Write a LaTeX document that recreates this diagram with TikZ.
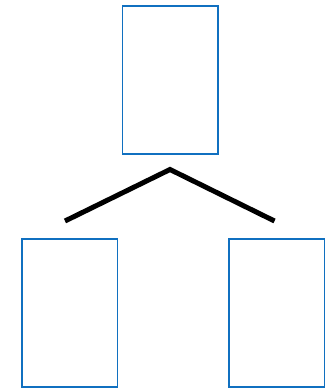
\documentclass[tikz,border=0pt]{standalone}
\definecolor{boxblue}{HTML}{1070C0}
\begin{document}
\begin{tikzpicture}[x=1pt,y=-1pt,
  box/.style={draw=boxblue,line width=1.5pt,fill=white,minimum width=95.5pt,minimum height=148pt,inner sep=0pt,outer sep=0pt},
  link/.style={line width=5pt,black,line join=miter}]
\useasboundingbox (0,0) rectangle (328,388);
\node[box] (top) at (170,80) {};
\node[box] (left) at (69.5,313) {};
\node[box] (right) at (276.5,313) {};
\coordinate (apex) at (170,169.5);
\coordinate (lend) at (65,221);
\coordinate (rend) at (274.5,221);
\draw[link] (lend) -- (apex) -- (rend);
\end{tikzpicture}
\end{document}
